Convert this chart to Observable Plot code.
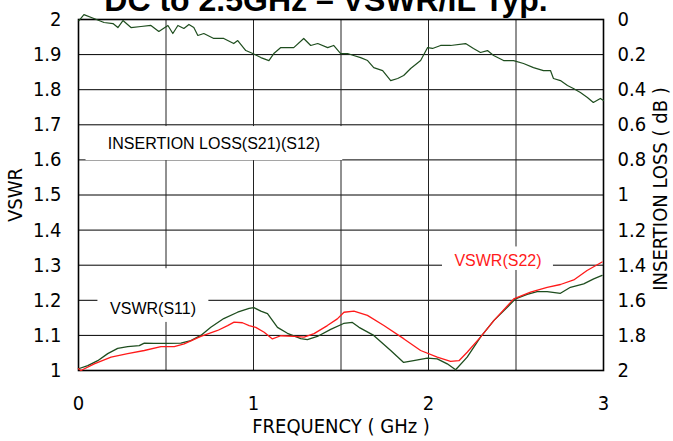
<!DOCTYPE html>
<html>
<head>
<meta charset="utf-8">
<script src="https://cdn.jsdelivr.net/npm/d3@7"></script>
<script src="https://cdn.jsdelivr.net/npm/@observablehq/plot@0.6"></script>
<style>
  html, body { margin: 0; padding: 0; background: white; }
  #chart svg { display: block; }
</style>
</head>
<body>
<div id="chart"></div>
<script>
// ---- data ----
const titleText = "DC to 2.5GHz – VSWR/IL Typ.";

const freqS11 = [0,0.053,0.110,0.167,0.224,0.281,0.347,0.376,0.431,0.509,0.585,0.642,0.699,0.756,0.830,0.909,0.975,1.002,1.042,1.080,1.137,1.194,1.270,1.308,1.365,1.441,1.515,1.565,1.603,1.687,1.784,1.858,1.915,1.993,2.050,2.107,2.155,2.221,2.297,2.373,2.450,2.497,2.564,2.621,2.678,2.754,2.811,2.887,2.944,2.992];
const vswrS11 = [1.005,1.014,1.028,1.048,1.063,1.068,1.071,1.078,1.077,1.077,1.078,1.085,1.100,1.123,1.148,1.166,1.177,1.179,1.169,1.162,1.123,1.106,1.091,1.088,1.097,1.117,1.134,1.137,1.123,1.100,1.057,1.023,1.028,1.035,1.033,1.019,1.002,1.038,1.095,1.142,1.180,1.204,1.217,1.225,1.225,1.220,1.237,1.247,1.261,1.271];

const freqS22 = [0,0.014,0.090,0.186,0.281,0.376,0.471,0.547,0.604,0.699,0.795,0.852,0.889,0.937,0.975,1.013,1.061,1.108,1.156,1.232,1.289,1.346,1.422,1.479,1.517,1.574,1.651,1.745,1.860,1.955,2.050,2.126,2.174,2.221,2.297,2.373,2.487,2.583,2.678,2.754,2.830,2.906,2.992];
const vswrS22 = [1.005,1.000,1.019,1.038,1.048,1.057,1.068,1.068,1.076,1.097,1.114,1.128,1.138,1.136,1.128,1.123,1.109,1.090,1.099,1.097,1.095,1.105,1.128,1.147,1.166,1.169,1.157,1.128,1.090,1.057,1.038,1.026,1.028,1.052,1.095,1.142,1.204,1.223,1.237,1.245,1.258,1.285,1.309];

const freqIL = [0.003,0.031,0.088,0.146,0.197,0.225,0.254,0.300,0.357,0.414,0.459,0.511,0.539,0.568,0.602,0.631,0.659,0.682,0.716,0.773,0.830,0.887,0.910,0.956,0.996,1.042,1.088,1.116,1.156,1.230,1.287,1.327,1.367,1.424,1.458,1.498,1.538,1.572,1.612,1.652,1.687,1.738,1.784,1.824,1.858,1.898,1.955,1.995,2.023,2.069,2.126,2.212,2.257,2.297,2.337,2.372,2.429,2.486,2.543,2.600,2.657,2.697,2.714,2.754,2.794,2.828,2.868,2.908,2.942,2.982,3.0];
const lossIL = [0.006,-0.028,-0.006,0.017,0.023,0.046,0.006,0.046,0.040,0.034,0.068,0.034,0.080,0.034,0.051,0.028,0.046,0.091,0.080,0.108,0.108,0.137,0.120,0.177,0.194,0.217,0.234,0.194,0.160,0.160,0.108,0.148,0.137,0.160,0.148,0.194,0.194,0.205,0.217,0.234,0.274,0.291,0.348,0.336,0.319,0.279,0.234,0.160,0.165,0.148,0.148,0.137,0.165,0.188,0.177,0.205,0.234,0.234,0.251,0.274,0.291,0.291,0.336,0.348,0.376,0.393,0.416,0.444,0.473,0.450,0.462];

const xTicks = [0, 1, 2, 3];
const vswrTicks = [1, 1.1, 1.2, 1.3, 1.4, 1.5, 1.6, 1.7, 1.8, 1.9, 2];
const lossTickLabels = ["2","1.8","1.6","1.4","1.2","1","0.8","0.6","0.4","0.2","0"];
const xGrid = [0.5, 1, 1.5, 2, 2.5];

// annotation labels (text, x in GHz, y in VSWR units)
const labelTexts = ["INSERTION LOSS(S21)(S12)", "VSWR(S11)", "VSWR(S22)"];
const labelColors = ["black", "black", "#ff1a1a"];
const labelX = [0.774, 0.426, 2.397];
const labelY = [1.647, 1.176, 1.313];
const boxX1 = [0.043, 0.111, 2.08];
const boxX2 = [1.51, 0.745, 2.714];
const boxY1 = [1.598, 1.137, 1.285];
const boxY2 = [1.695, 1.29, 1.352];

// ---- tables ----
const s11 = freqS11.map((f, i) => ({f, v: vswrS11[i]}));
const s22 = freqS22.map((f, i) => ({f, v: vswrS22[i]}));
// insertion loss plotted on the VSWR scale: 0 dB at top (2), 2 dB at bottom (1)
const il = freqIL.map((f, i) => ({f, v: 2 - lossIL[i] / 2}));
const labels = labelTexts.map((t, i) => ({t, c: labelColors[i], x: labelX[i], y: labelY[i],
  x1: boxX1[i], x2: boxX2[i], y1: boxY1[i], y2: boxY2[i]}));

const narrow = "'Liberation Sans Narrow', 'DejaVu Sans Condensed', 'Liberation Sans', sans-serif";
const sans = "'Liberation Sans', Arial, sans-serif";

const chart = Plot.plot({
  width: 673,
  height: 441,
  marginLeft: 78,
  marginRight: 70,
  marginTop: 19,
  marginBottom: 71,
  style: {fontFamily: narrow, fontSize: "20px", background: "white", color: "black"},
  x: {domain: [0, 3]},
  y: {domain: [1, 2]},
  marks: [
    Plot.gridY(vswrTicks, {stroke: "black", strokeOpacity: 1, strokeWidth: 1}),
    Plot.gridX(xGrid, {stroke: "#222", strokeOpacity: 1, strokeWidth: 1}),
    Plot.rect(labels, {x1: "x1", x2: "x2", y1: "y1", y2: "y2", fill: "white"}),
    Plot.frame({stroke: "black", strokeWidth: 1.6}),
    Plot.axisY(vswrTicks, {anchor: "left", tickSize: 0, tickPadding: 17, label: null,
      tickFormat: d => String(Math.round(d * 10) / 10), fontFamily: narrow}),
    Plot.axisY(vswrTicks, {anchor: "right", tickSize: 0, tickPadding: 14, label: null,
      tickFormat: (d, i) => lossTickLabels[i], fontFamily: narrow}),
    Plot.axisX(xTicks, {anchor: "bottom", tickSize: 0, tickPadding: 25, label: null,
      tickFormat: d => String(d), fontFamily: narrow}),
    Plot.line(il, {x: "f", y: "v", stroke: "#1e4d1e", strokeWidth: 1.2}),
    Plot.line(s11, {x: "f", y: "v", stroke: "#1e4d1e", strokeWidth: 1.3}),
    Plot.line(s22, {x: "f", y: "v", stroke: "#ff1a1a", strokeWidth: 1.3}),
    Plot.text(labels, {x: "x", y: "y", text: "t", fill: "c", fontSize: 16, fontFamily: sans}),
    Plot.text(["FREQUENCY ( GHz )"], {frameAnchor: "bottom", dy: 62, fontSize: 20, fontFamily: narrow}),
    Plot.text(["VSWR"], {frameAnchor: "left", textAnchor: "middle", dx: -63, rotate: -90, fontSize: 20, fontFamily: narrow}),
    Plot.text(["INSERTION LOSS ( dB )"], {frameAnchor: "right", textAnchor: "middle", dx: 57, dy: -6, rotate: -90, fontSize: 20, fontFamily: narrow}),
    Plot.text([titleText], {frameAnchor: "top", dx: -15, dy: -9, lineAnchor: "bottom", fontSize: 32, fontWeight: "bold", fontFamily: sans})
  ]
});
document.getElementById("chart").appendChild(chart);
</script>
</body>
</html>
